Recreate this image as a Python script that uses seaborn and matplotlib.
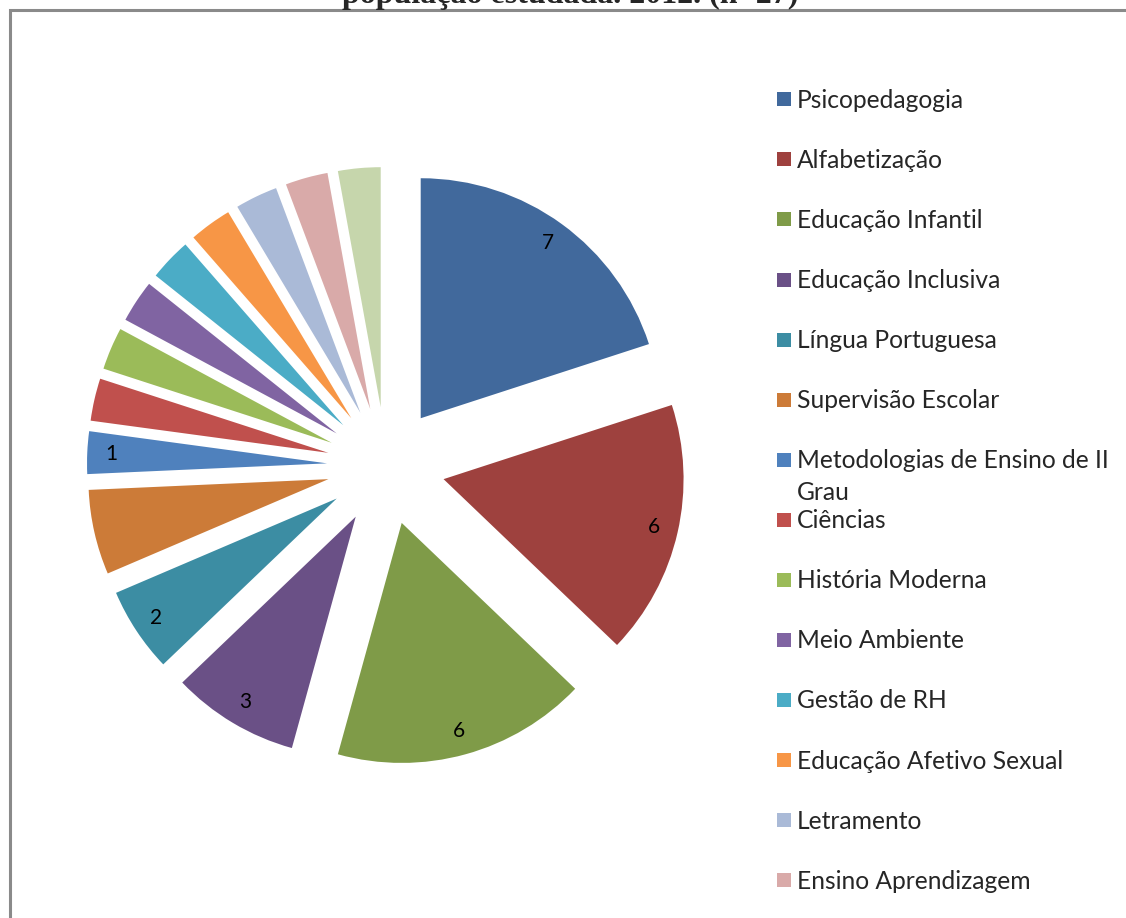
import matplotlib
matplotlib.use("Agg")
import matplotlib.pyplot as plt
import seaborn as sns
from matplotlib.lines import Line2D
from matplotlib.patches import Rectangle

# ---------------- data ----------------
categories = [
    "Psicopedagogia", "Alfabetização", "Educação Infantil", "Educação Inclusiva",
    "Língua Portuguesa", "Supervisão Escolar", "Metodologias de Ensino de II Grau",
    "Ciências", "História Moderna", "Meio Ambiente", "Gestão de RH",
    "Educação Afetivo Sexual", "Letramento", "Ensino Aprendizagem", "Outras",
]
values = [7, 6, 6, 3, 2, 2, 1, 1, 1, 1, 1, 1, 1, 1, 1]
show_value_label = [True, True, True, True, True, False, True,
                    False, False, False, False, False, False, False, False]
colors = [
    "#41699C", "#9E413E", "#7F9B48", "#6A5086", "#3C8DA3", "#CC7B38",
    "#4F81BD", "#C0504D", "#9BBB59", "#8064A2", "#4BACC6", "#F79646",
    "#AABAD7", "#D9AAA9", "#C6D6AC",
]
title_text = "população estudada. 2012. (n=27)"

# ---------------- figure ----------------
sns.set_theme(style="white")
plt.rcParams['font.family'] = ['Lato', 'DejaVu Sans']

W, H = 1126, 918
fig = plt.figure(figsize=(W / 100, H / 100), dpi=100)
fig.patch.set_facecolor("white")


def px_rect(x, y, w, h):
    return [x / W, 1 - (y + h) / H, w / W, h / H]


# pie: center at (386, 466) px, radius 240 px -> 1 data unit = 240 px
ax = fig.add_axes(px_rect(26, 106, 720, 720))
total = sum(values)
wedges, texts, autotexts = ax.pie(
    values, colors=colors, startangle=90, counterclock=False,
    explode=[0.246] * len(values), radius=1,
    autopct=lambda p: f"{p * total / 100:.0f}", pctdistance=0.9,
    wedgeprops=dict(linewidth=0),
    textprops=dict(fontsize=15, color="black"),
)
for t, show in zip(autotexts, show_value_label):
    t.set_visible(show)
ax.set_xlim(-1.5, 1.5)
ax.set_ylim(-1.5, 1.5)
ax.set_aspect("equal")
ax.axis("off")

# chart-area frame (cut at right/bottom like the reference)
frame = Rectangle((0.10, -0.5), 12.0, 9.08 + 0.5, transform=fig.dpi_scale_trans,
                  fill=False, edgecolor="#8a8a8a", linewidth=2.2)
fig.patches.append(frame)

# title (mostly cropped at the top, as in the reference)
fig.text(570 / W, 1 - 3 / H, title_text, ha="center", va="baseline",
         fontfamily="Liberation Serif", fontweight="bold", fontsize=23)

# legend
fs = 17.7
fs_px = fs * 100 / 72
legend_labels = list(categories)
legend_labels[6] = "Metodologias de Ensino de II"
handles = [Line2D([], [], linestyle="none", marker="s", markersize=10,
                  markerfacecolor=c, markeredgewidth=0) for c in colors]
leg = fig.legend(
    handles, legend_labels, loc="upper left",
    bbox_to_anchor=(777 / W, 1 - 89 / H), bbox_transform=fig.transFigure,
    frameon=False, fontsize=fs, borderpad=0, borderaxespad=0,
    handlelength=14 / fs_px, handletextpad=6 / fs_px,
    labelspacing=37.05 / fs_px, handleheight=0.7,
)

fig.canvas.draw()
t6 = leg.get_texts()[6]
bb = t6.get_window_extent()
fig.text(bb.x0 / W, (bb.y0 - 32) / H, "Grau", ha="left", va="bottom",
         fontsize=fs, color=t6.get_color())

fig.savefig("out.png", dpi=100)
